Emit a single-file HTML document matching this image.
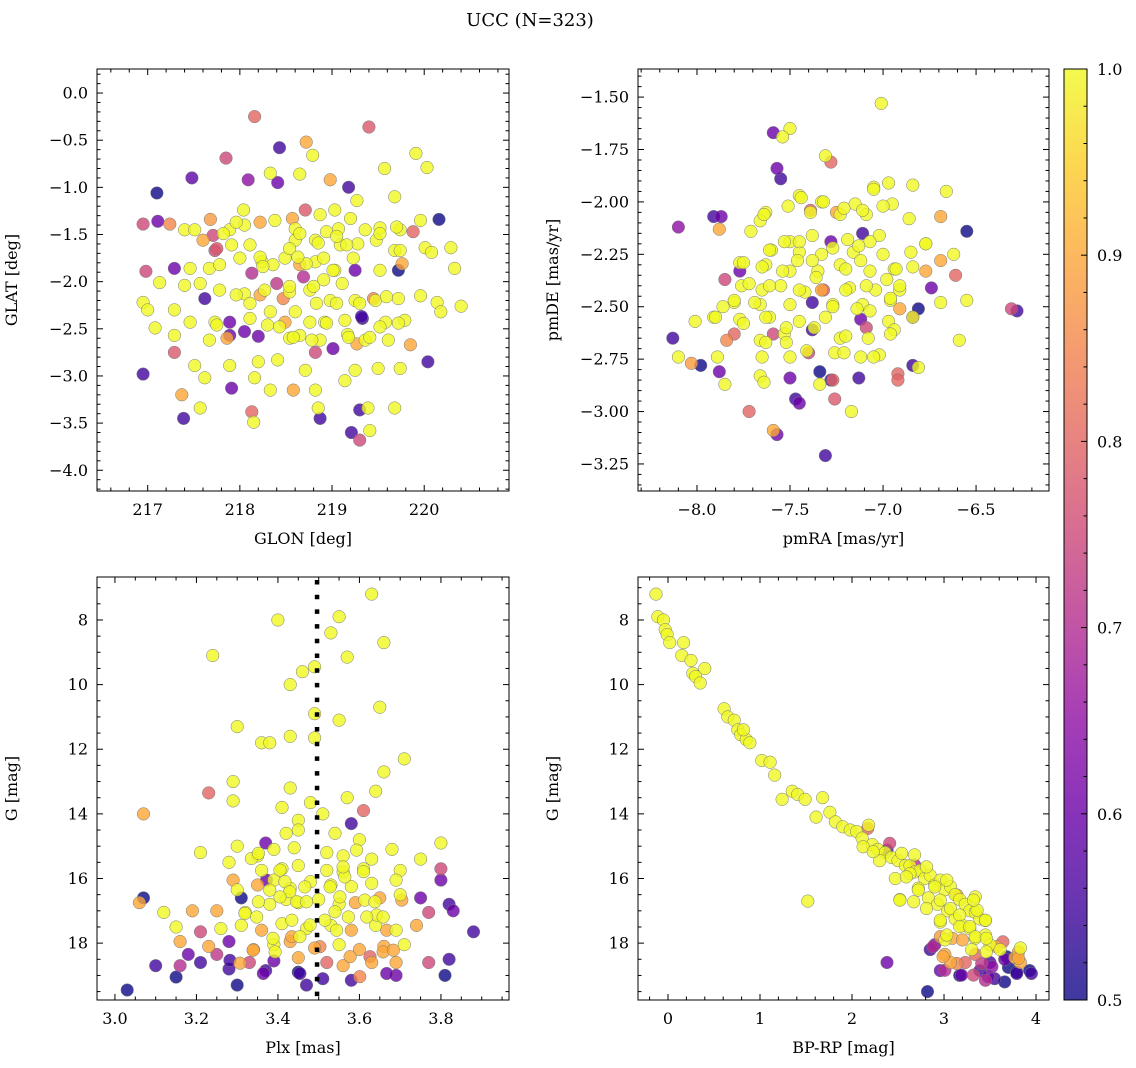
<!DOCTYPE html>
<html><head><meta charset="utf-8">
<style>
html,body{margin:0;padding:0;background:#fff;}
svg{display:block;font-family:"DejaVu Serif","Liberation Serif",serif;}
</style></head>
<body>
<svg id="fig" width="1136" height="1068" viewBox="0 0 1136 1068" xmlns="http://www.w3.org/2000/svg">
<defs>
<linearGradient id="plasmaGrad" x1="0" y1="1" x2="0" y2="0">
<stop offset="0" stop-color="#0d0887"/><stop offset="0.1" stop-color="#41049d"/><stop offset="0.2" stop-color="#6a00a8"/><stop offset="0.3" stop-color="#8f0da4"/><stop offset="0.4" stop-color="#b12a90"/><stop offset="0.5" stop-color="#cc4778"/><stop offset="0.6" stop-color="#e16462"/><stop offset="0.7" stop-color="#f2844b"/><stop offset="0.8" stop-color="#fca636"/><stop offset="0.9" stop-color="#fcce25"/><stop offset="1" stop-color="#f0f921"/>
</linearGradient>
</defs>
<text x="530" y="26" font-size="18" text-anchor="middle">UCC (N=323)</text>
<g id="plots"></g>
<g>
<rect x="1064" y="69" width="23" height="931" fill="url(#plasmaGrad)" opacity="0.8"/>
<rect x="1064" y="69" width="23" height="931" fill="none" stroke="#000" stroke-width="1"/>
<g id="cbticks"></g>
</g>
</svg>
<script>
const glon=[218.16,219.40,218.72,218.43,217.85,219.91,218.79,217.48,219.57,220.03,217.10,219.18,218.41,218.09,218.33,218.65,218.98,219.27,219.68,220.16,216.95,217.11,217.24,217.40,217.68,217.89,218.05,218.22,218.38,218.57,218.71,218.87,219.03,219.20,219.36,219.52,219.74,219.96,217.60,217.73,218.11,218.60,218.82,219.09,219.28,219.48,219.68,220.01,220.29,216.98,217.29,217.67,217.78,218.00,218.24,218.49,218.65,218.82,219.03,219.25,219.52,219.72,220.08,220.33,217.13,217.40,217.62,217.78,218.05,218.27,218.54,218.76,218.98,219.25,219.47,219.72,219.96,220.14,216.95,217.00,217.29,217.46,217.73,217.89,218.11,218.30,218.49,218.76,218.92,219.14,219.33,219.58,219.79,220.18,220.40,217.08,217.29,217.67,217.89,218.20,218.54,218.65,218.87,219.17,219.36,219.61,219.85,216.95,217.29,217.51,217.62,217.89,218.20,218.41,218.71,218.82,219.01,219.25,219.50,219.74,220.04,217.37,217.57,217.91,218.16,218.33,218.58,218.82,219.14,219.30,219.39,219.68,217.39,218.13,218.15,218.87,218.85,219.21,219.30,219.41,
218.04,217.96,217.82,217.91,218.22,218.36,218.54,218.60,218.65,218.85,218.94,219.07,219.05,219.16,219.23,219.01,218.91,218.72,218.63,218.69,218.54,218.80,218.91,219.11,218.40,218.13,218.25,217.96,218.11,218.22,218.33,218.47,218.60,218.83,218.94,219.05,219.30,219.45,219.59,219.52,219.72,219.32,219.18,219.41,219.27,218.78,218.58,218.43,218.05,217.86,217.75,217.57,217.46,217.51,217.71,217.75,219.70,219.52,219.74,219.76,219.88];
const glat=[-0.25,-0.36,-0.52,-0.58,-0.69,-0.64,-0.66,-0.90,-0.80,-0.79,-1.06,-1.00,-0.95,-0.92,-0.85,-0.86,-0.92,-1.14,-1.10,-1.34,-1.39,-1.36,-1.39,-1.45,-1.34,-1.45,-1.40,-1.37,-1.35,-1.33,-1.24,-1.29,-1.24,-1.33,-1.45,-1.43,-1.45,-1.35,-1.56,-1.67,-1.61,-1.56,-1.56,-1.61,-1.60,-1.56,-1.67,-1.64,-1.64,-1.89,-1.86,-1.86,-1.82,-1.75,-1.79,-1.75,-1.82,-1.79,-1.88,-1.88,-1.88,-1.88,-1.69,-1.86,-2.01,-2.04,-2.18,-2.09,-2.13,-2.09,-2.11,-2.09,-2.20,-2.20,-2.20,-2.18,-2.15,-2.22,-2.22,-2.30,-2.30,-2.43,-2.43,-2.43,-2.39,-2.46,-2.43,-2.43,-2.43,-2.41,-2.39,-2.43,-2.41,-2.32,-2.26,-2.49,-2.57,-2.62,-2.57,-2.58,-2.60,-2.57,-2.62,-2.56,-2.62,-2.62,-2.67,-2.98,-2.75,-2.89,-3.02,-2.89,-2.85,-2.83,-2.94,-2.75,-2.71,-2.94,-2.92,-2.92,-2.85,-3.20,-3.34,-3.13,-3.02,-3.15,-3.15,-3.15,-3.05,-3.36,-3.34,-3.34,-3.45,-3.38,-3.49,-3.45,-3.34,-3.60,-3.68,-3.58,
-1.24,-1.37,-1.49,-1.61,-1.74,-1.82,-1.65,-1.44,-1.49,-1.59,-1.47,-1.44,-1.52,-1.61,-1.75,-1.88,-1.75,-1.81,-1.74,-1.95,-2.05,-2.05,-1.98,-2.02,-2.02,-1.91,-1.84,-2.14,-2.23,-2.14,-2.32,-2.18,-2.32,-2.23,-2.44,-2.23,-2.23,-2.18,-2.16,-2.48,-2.44,-2.37,-2.59,-2.59,-2.66,-2.62,-2.59,-2.48,-2.53,-2.60,-2.46,-2.02,-1.86,-1.45,-1.51,-1.65,-1.42,-1.49,-1.67,-1.81,-1.47];
const prob1=[.8,.78,.9,.55,.75,1,1,.58,1,1,.5,.55,.6,.65,1,1,.9,1,1,.5,.75,.6,.85,1,.88,1,1,.9,1,.9,.78,1,1,1,1,1,1,1,.9,.75,1,1,1,1,1,1,1,1,1,.75,.6,1,1,1,1,1,.9,1,1,.6,1,.5,1,1,1,1,.55,1,1,1,1,1,1,1,1,1,1,1,1,1,1,1,1,.6,1,1,.9,1,1,1,.55,1,1,1,1,1,1,1,.6,.6,1,1,1,1,1,1,.9,.55,.78,1,1,1,1,1,1,.75,.6,1,1,1,.55,.9,1,.6,1,1,.9,1,1,.55,1,1,.55,.8,1,.55,1,.55,.75,1,
1,1,1,1,1,1,1,1,1,1,1,1,1,1,1,1,1,1,1,.7,1,1,1,1,.72,.7,1,1,1,.9,1,.85,1,1,1,1,1,.85,1,1,1,.55,1,1,.9,1,1,1,.6,.9,1,1,1,1,.75,.78,1,1,1,.9,.8];

const pmra=[-7.01,-7.50,-7.59,-7.54,-7.31,-7.28,-7.57,-7.55,-6.97,-6.84,-6.66,-7.05,-7.45,-7.33,-7.15,-6.95,-7.91,-7.87,-8.10,-7.88,-7.63,-7.66,-7.39,-7.23,-7.09,-6.86,-6.69,-6.55,-7.28,-7.11,-7.50,-7.38,-7.19,-7.02,-6.77,-7.60,-7.45,-7.33,-7.16,-7.00,-6.85,-6.62,-7.77,-7.77,-7.85,-7.63,-7.50,-7.35,-7.23,-7.07,-6.94,-6.77,-6.61,-7.76,-7.65,-7.55,-7.42,-7.32,-7.18,-7.04,-6.91,-6.74,-7.80,-7.66,-7.50,-7.38,-7.27,-7.11,-6.96,-6.81,-6.55,-6.31,-6.28,-8.01,-7.91,-7.77,-7.61,-7.45,-7.31,-7.12,-6.97,-6.84,-8.13,-7.80,-7.66,-7.53,-7.38,-7.23,-7.08,-6.94,-8.10,-7.89,-7.65,-7.50,-7.40,-7.26,-7.12,-7.02,-6.84,-6.81,-7.98,-8.03,-7.88,-7.66,-7.50,-7.34,-7.27,-7.13,-6.92,-7.85,-7.64,-7.34,-7.47,-7.45,-7.28,-6.92,-7.72,-7.17,-7.59,-7.57,-7.31,-7.26,-6.59,-6.69,
-7.44,-7.32,-7.21,-7.11,-7.00,-7.05,-7.51,-7.64,-7.71,-7.61,-7.53,-7.45,-7.38,-7.46,-7.54,-7.65,-7.75,-7.72,-7.61,-7.45,-7.36,-7.20,-7.12,-7.07,-7.13,-7.27,-7.33,-7.20,-7.09,-6.98,-6.93,-6.84,-6.91,-6.96,-7.07,-7.14,-7.27,-7.37,-7.52,-7.63,-7.69,-7.80,-7.86,-7.90,-7.75,-7.84,-7.63,-7.52,-7.41,-7.20,-7.21,-7.05,-6.96,-6.91,-6.77,-6.69,-7.25,-7.39,-6.84,-7.09,-7.59];
const pmde=[-1.53,-1.65,-1.67,-1.69,-1.78,-1.81,-1.84,-1.89,-1.91,-1.92,-1.95,-1.93,-1.97,-2.00,-2.01,-2.01,-2.07,-2.07,-2.12,-2.13,-2.05,-2.09,-2.05,-2.06,-2.06,-2.08,-2.07,-2.14,-2.19,-2.15,-2.19,-2.16,-2.18,-2.16,-2.20,-2.23,-2.24,-2.25,-2.24,-2.25,-2.24,-2.25,-2.29,-2.33,-2.37,-2.30,-2.33,-2.33,-2.30,-2.33,-2.32,-2.33,-2.35,-2.40,-2.42,-2.40,-2.43,-2.42,-2.41,-2.42,-2.42,-2.41,-2.48,-2.49,-2.49,-2.48,-2.49,-2.49,-2.47,-2.51,-2.47,-2.51,-2.52,-2.57,-2.55,-2.56,-2.55,-2.57,-2.55,-2.56,-2.57,-2.55,-2.65,-2.63,-2.66,-2.63,-2.61,-2.65,-2.65,-2.61,-2.74,-2.74,-2.74,-2.74,-2.72,-2.72,-2.74,-2.73,-2.78,-2.79,-2.78,-2.77,-2.81,-2.83,-2.84,-2.81,-2.85,-2.84,-2.82,-2.87,-2.86,-2.87,-2.94,-2.96,-2.85,-2.85,-3.00,-3.00,-3.09,-3.11,-3.21,-2.94,-2.66,-2.48,
-1.98,-2.00,-2.03,-2.04,-2.02,-1.94,-2.02,-2.06,-2.14,-2.23,-2.19,-2.19,-2.28,-2.28,-2.33,-2.31,-2.29,-2.39,-2.40,-2.42,-2.36,-2.32,-2.28,-2.19,-2.21,-2.22,-2.42,-2.42,-2.40,-2.37,-2.32,-2.31,-2.40,-2.46,-2.52,-2.51,-2.50,-2.60,-2.60,-2.55,-2.48,-2.47,-2.50,-2.55,-2.58,-2.66,-2.67,-2.67,-2.71,-2.64,-2.72,-2.74,-2.63,-2.51,-2.20,-2.28,-2.05,-2.04,-2.55,-2.60,-2.63];
const prob2=[1,1,.6,1,1,.8,.6,.55,1,1,1,1,1,1,1,1,.55,.6,.65,.9,1,1,1,1,1,1,.9,.5,.6,.55,1,1,1,1,1,1,1,1,1,1,1,1,1,.6,.75,1,1,1,1,1,1,.9,.8,1,1,1,1,.78,1,1,1,.6,1,1,1,.55,1,1,1,.5,1,.75,.55,1,1,1,1,1,1,.6,1,1,.55,.8,1,1,.55,1,1,1,1,1,1,1,.75,1,1,1,.55,1,.5,.88,.6,1,.6,.5,.8,.55,.8,1,1,1,.55,.6,.55,.8,.8,1,.9,.6,.55,.78,1,1,
1,1,1,1,1,1,1,1,1,1,1,1,1,1,1,1,1,1,1,1,1,1,1,1,1,1,.9,1,1,1,1,1,1,1,1,1,1,1,1,1,1,1,1,1,1,.85,1,1,1,1,1,1,1,.9,1,.9,.9,.8,.6,.75,.75];

const plx=[3.63,3.55,3.40,3.53,3.66,3.24,3.57,3.46,3.49,3.43,3.65,3.30,3.49,3.55,3.36,3.43,3.49,3.71,3.38,3.66,3.29,3.23,3.29,3.43,3.57,3.64,3.07,3.48,3.41,3.45,3.51,3.58,3.61,3.30,3.37,3.42,3.45,3.54,3.60,3.68,3.80,3.21,3.35,3.39,3.44,3.52,3.56,3.63,3.28,3.36,3.41,3.45,3.52,3.56,3.61,3.70,3.75,3.80,3.80,3.30,3.35,3.39,3.43,3.48,3.53,3.58,3.63,3.69,3.31,3.07,3.06,3.12,3.19,3.25,3.32,3.38,3.42,3.45,3.50,3.55,3.59,3.65,3.70,3.75,3.82,3.83,3.77,3.88,3.15,3.21,3.26,3.31,3.36,3.41,3.47,3.53,3.58,3.64,3.69,3.74,3.23,3.28,3.34,3.39,3.43,3.49,3.55,3.60,3.66,3.71,3.18,3.21,3.16,3.25,3.28,3.33,3.39,3.45,3.52,3.56,3.63,3.69,3.77,3.82,3.03,3.10,3.15,3.30,3.37,3.45,3.51,3.58,3.69,3.81,3.47,3.16,
3.335,3.352,3.372,3.405,3.417,3.429,3.446,3.405,3.380,3.352,3.319,3.348,3.434,3.470,3.466,3.528,3.552,3.564,3.560,3.593,3.610,3.613,3.638,3.642,3.618,3.573,3.540,3.515,3.544,3.479,3.454,3.388,3.339,3.393,3.434,3.503,3.577,3.626,3.658,3.683,3.667,3.704,3.658,3.290,3.364,3.454,3.601,3.667,3.307,3.282];
const gmag3=[7.2,7.9,8.0,8.4,8.7,9.1,9.15,9.6,9.45,10.0,10.7,11.3,10.9,11.1,11.8,11.6,11.65,12.3,11.8,12.7,13.0,13.35,13.6,13.2,13.5,13.3,14.0,13.65,13.8,14.2,14.0,14.3,13.9,15.0,14.9,14.6,14.5,14.6,14.8,15.1,14.9,15.2,15.3,15.1,15.05,15.2,15.3,15.4,15.5,15.75,15.7,15.6,15.75,15.8,15.7,15.75,15.4,15.7,16.05,16.35,16.2,16.05,16.3,16.1,16.2,16.25,16.15,16.05,16.6,16.6,16.75,17.05,17.0,17.0,17.05,16.8,16.65,16.75,16.65,16.8,16.75,16.6,16.5,16.6,16.8,17.0,17.05,17.65,17.5,17.65,17.55,17.45,17.6,17.4,17.55,17.45,17.6,17.45,17.6,17.45,18.1,17.95,18.2,18.05,17.95,18.15,18.05,18.2,18.1,18.05,18.35,18.6,18.7,18.35,18.8,18.6,18.55,18.45,18.6,18.7,18.6,18.6,18.6,18.5,19.45,18.7,19.05,19.3,18.85,18.9,19.1,19.15,19.0,19.0,19.3,17.95,
15.38,15.22,16.05,15.74,16.1,16.41,16.72,16.57,16.36,16.72,17.08,17.19,17.29,16.72,16.26,16.26,16.57,15.95,15.64,15.12,15.79,16.67,16.72,17.13,17.19,17.19,17.03,17.29,17.60,17.44,17.80,17.85,18.22,18.27,17.80,18.11,18.42,18.42,18.27,18.22,17.60,16.67,17.19,16.05,18.94,18.94,19.04,18.94,18.62,18.53];
const prob3=[1,1,1,1,1,1,1,1,1,1,1,1,1,1,1,1,1,1,1,1,1,.8,1,1,1,1,.9,1,1,1,1,.55,.8,1,.6,1,1,1,1,1,1,1,1,1,1,1,1,1,1,1,1,1,1,1,1,1,1,.75,.6,1,.9,1,1,1,1,1,1,1,.5,.5,.9,1,.9,.9,1,1,1,1,1,1,.9,.9,1,.6,.55,.6,.75,.55,1,.75,1,1,.9,1,1,1,.9,1,1,.9,.9,.6,.9,1,.9,.9,1,.9,.9,1,.6,.55,.7,.72,.55,.75,.6,.9,.8,.9,.9,.9,.75,.55,.5,.55,.5,.5,.55,.5,.55,.55,.6,.5,.55,.9,
1,1,.6,1,1,1,1,1,1,1,1,1,1,1,1,1,1,1,1,1,1,1,1,1,1,1,1,1,1,1,1,1,.9,1,.9,.85,.9,.8,.9,.9,.9,.9,1,.9,.6,.55,.85,.6,.9,.55];

const bprp=[-0.13,-0.11,-0.05,-0.03,-0.01,0.02,0.17,0.15,0.25,0.27,0.30,0.35,0.40,0.61,0.65,0.72,0.76,0.79,0.85,0.89,0.82,1.02,1.11,1.16,1.24,1.35,1.41,1.49,1.68,1.61,1.76,1.82,1.90,1.98,2.05,2.11,2.17,2.22,2.28,2.36,2.43,2.50,2.58,2.63,2.68,2.74,2.79,2.85,2.90,2.96,3.01,3.07,3.12,3.17,3.23,3.28,3.34,3.39,3.45,2.72,2.83,2.93,3.04,3.12,3.20,3.28,2.96,2.52,1.52,2.47,3.09,3.20,3.34,3.45,3.50,3.61,3.77,3.83,3.01,3.07,2.90,2.85,3.23,3.34,3.50,3.66,3.70,3.39,3.17,2.96,3.55,3.66,3.79,3.93,2.38,2.82,3.45,3.83,3.30,3.01,2.63,2.30,
2.18,2.12,2.23,2.41,2.38,2.54,2.68,2.81,2.68,2.59,2.72,2.90,3.03,2.96,3.14,2.52,2.67,2.81,3.07,3.17,3.34,3.36,3.45,2.96,3.03,3.17,3.28,3.34,3.46,3.46,3.57,3.64,2.96,2.88,2.99,3.14,3.01,3.19,3.32,3.41,3.52,3.48,3.68,3.81,3.81,3.79,3.95,3.32];
const gmag4=[7.2,7.9,8.0,8.3,8.45,8.7,8.7,9.1,9.25,9.65,9.75,9.95,9.5,10.75,11.0,11.1,11.4,11.55,11.7,11.8,11.4,12.35,12.4,12.8,13.55,13.3,13.4,13.55,13.5,14.1,13.95,14.25,14.4,14.5,14.55,14.75,14.45,14.95,15.1,15.2,15.35,15.45,15.6,15.6,15.8,15.75,16.0,15.9,16.2,16.05,16.35,16.25,16.5,16.65,16.8,17.0,17.05,17.25,17.3,16.3,16.6,16.8,17.0,17.25,17.45,17.55,17.35,16.65,16.7,16.0,17.85,17.9,17.85,17.75,18.05,18.2,18.45,18.6,18.35,18.6,18.05,18.2,18.6,18.35,18.6,18.5,18.75,18.85,19.0,18.85,19.1,19.2,18.9,18.85,18.6,19.5,19.15,18.15,18.2,17.9,15.85,15.45,
14.35,15.02,15.17,14.91,15.12,15.22,15.27,15.64,15.58,15.95,16.36,16.26,16.05,16.67,16.51,16.67,16.72,16.93,16.93,17.13,16.57,16.98,17.29,17.29,17.75,17.49,17.49,17.80,17.85,18.27,18.11,17.96,17.80,18.11,18.42,18.63,18.84,18.99,18.99,18.63,18.73,19.04,18.42,18.27,18.47,18.94,18.94,16.67];
const prob4=[1,1,1,1,1,1,1,1,1,1,1,1,1,1,1,1,1,1,1,1,1,1,1,1,1,1,1,1,1,1,1,1,1,1,1,1,.8,1,1,1,1,1,1,1,1,1,1,1,1,1,1,1,1,1,1,1,1,1,1,1,1,1,1,1,1,1,1,1,1,1,.9,.9,1,1,1,1,.9,.9,.9,.9,.6,.55,.8,.8,.55,.6,.5,.55,.5,.6,.55,.5,.5,.5,.6,.5,.7,1,1,1,1,1,
1,1,1,.75,.55,1,1,1,.7,1,1,1,1,1,.9,1,1,1,1,1,1,1,1,1,1,1,1,1,1,1,.9,.8,.88,.7,.9,.85,.7,.6,.75,.72,.65,.6,.5,.9,.9,.55,.55,1];

const plxRef=3.496;
const cbTicks=[0.5,0.6,0.7,0.8,0.9,1.0];

const plasma=[[13,8,135],[65,4,157],[106,0,168],[143,13,164],[177,42,144],[204,71,120],[225,100,98],[242,132,75],[252,166,54],[252,206,37],[240,249,33]];
function cmap(v){let t=Math.max(0,Math.min(1,(v-0.5)/0.5))*10;let i=Math.min(9,Math.floor(t)),f=t-i;const a=plasma[i],b=plasma[i+1];return 'rgb('+[0,1,2].map(k=>Math.round(a[k]+(b[k]-a[k])*f)).join(',')+')';}
const NS='http://www.w3.org/2000/svg';
function mk(tag,attrs,parent){const e=document.createElementNS(NS,tag);for(const k in attrs)e.setAttribute(k,attrs[k]);parent.appendChild(e);return e;}
function fmt(v,d){return v.toFixed(d).replace('-','\u2212');}
const root=document.getElementById('plots');

const panels=[
 {name:'sky',L:97,T:69,W:412,H:422,x0:216.45,x1:220.92,y0:0.255,y1:-4.22,xs:glon,ys:glat,cs:prob1,xmaj:[217,218,219,220],xd:0,xmin:0.2,ymaj:[0,-0.5,-1,-1.5,-2,-2.5,-3,-3.5,-4],yd:1,ymin:0.1,xl:'GLON [deg]',yl:'GLAT [deg]'},
 {name:'pm',L:638,T:69,W:411,H:422,x0:-8.317,x1:-6.108,y0:-1.366,y1:-3.379,xs:pmra,ys:pmde,cs:prob2,xmaj:[-8,-7.5,-7,-6.5],xd:1,xmin:0.1,ymaj:[-1.5,-1.75,-2,-2.25,-2.5,-2.75,-3,-3.25],yd:2,ymin:0.05,xl:'pmRA [mas/yr]',yl:'pmDE [mas/yr]'},
 {name:'plx',L:97,T:577,W:412,H:423,x0:2.956,x1:3.967,y0:6.67,y1:19.76,xs:plx,ys:gmag3,cs:prob3,xmaj:[3.0,3.2,3.4,3.6,3.8],xd:1,xmin:0.05,ymaj:[8,10,12,14,16,18],yd:0,ymin:0.5,xl:'Plx [mas]',yl:'G [mag]'},
 {name:'cmd',L:638,T:577,W:411,H:423,x0:-0.326,x1:4.141,y0:6.67,y1:19.76,xs:bprp,ys:gmag4,cs:prob4,xmaj:[0,1,2,3,4],xd:0,xmin:0.2,ymaj:[8,10,12,14,16,18],yd:0,ymin:0.5,xl:'BP-RP [mag]',yl:'G [mag]'}
];

panels.forEach((p,pi)=>{
 const g=mk('g',{},root);
 
 
 const X=v=>p.L+(v-p.x0)/(p.x1-p.x0)*p.W;
 const Y=v=>p.T+(v-p.y0)/(p.y1-p.y0)*p.H;
 const cp=mk('clipPath',{id:'clip'+pi},g);mk('rect',{x:p.L,y:p.T,width:p.W,height:p.H},cp);
 const pts=mk('g',{'clip-path':'url(#clip'+pi+')'},g);
 
 
 const n=Math.min(p.xs.length,p.ys.length,p.cs.length);
 const idx=[...Array(n).keys()].sort((a,b)=>p.cs[a]-p.cs[b]);
 idx.forEach(i=>{
  const c=mk('circle',{cx:X(p.xs[i]).toFixed(1),cy:Y(p.ys[i]).toFixed(1),r:6.3,fill:cmap(p.cs[i]),'fill-opacity':0.8,stroke:'#777','stroke-width':0.5},pts);
  
  
 });
 if(p.name==='plx'){
  const l=mk('line',{x1:X(plxRef),x2:X(plxRef),y1:p.T+3,y2:p.T+p.H,stroke:'#000','stroke-width':4.5,'stroke-dasharray':'4.5,10.2'},g);
  
  
 }
 const ax=mk('g',{stroke:'#000','stroke-width':1},g);
 
 
 mk('rect',{x:p.L,y:p.T,width:p.W,height:p.H,fill:'none'},ax);
 const lo=Math.min(p.x0,p.x1),hi=Math.max(p.x0,p.x1);
 for(let k=Math.ceil(lo/p.xmin-1e-6);k*p.xmin<=hi+1e-9;k++){const v=k*p.xmin;const x=X(v);const maj=p.xmaj.some(m=>Math.abs(m-v)<1e-6);const len=maj?6:3.5;
  mk('line',{x1:x,x2:x,y1:p.T+p.H,y2:p.T+p.H-len},ax);mk('line',{x1:x,x2:x,y1:p.T,y2:p.T+len},ax);}
 const ylo=Math.min(p.y0,p.y1),yhi=Math.max(p.y0,p.y1);
 for(let k=Math.ceil(ylo/p.ymin-1e-6);k*p.ymin<=yhi+1e-9;k++){const v=k*p.ymin;const y=Y(v);const maj=p.ymaj.some(m=>Math.abs(m-v)<1e-6);const len=maj?6:3.5;
  mk('line',{x1:p.L,x2:p.L+len,y1:y,y2:y},ax);mk('line',{x1:p.L+p.W,x2:p.L+p.W-len,y1:y,y2:y},ax);}
 p.xmaj.forEach(v=>{const t=mk('text',{x:X(v),y:p.T+p.H+24,'font-size':16,'text-anchor':'middle'},g);t.textContent=fmt(v,p.xd);
  });
 p.ymaj.forEach(v=>{const t=mk('text',{x:p.L-9,y:Y(v)+5.5,'font-size':16,'text-anchor':'end'},g);t.textContent=fmt(v,p.yd);
  });
 const xl=mk('text',{x:p.L+p.W/2,y:p.T+p.H+53,'font-size':16,'text-anchor':'middle'},g);xl.textContent=p.xl;
 
 const yx=p.L-80;const yy=p.T+p.H/2;
 const yl=mk('text',{x:yx,y:yy,'font-size':16,'text-anchor':'middle',transform:'rotate(-90 '+yx+' '+yy+')'},g);yl.textContent=p.yl;
 
});

const cb=document.getElementById('cbticks');
const CY=v=>1000-(v-0.5)/0.5*931;
for(let k=25;k<=50;k++){const v=k*0.02;const maj=(k%5===0);const y=CY(v);
 mk('line',{x1:1087,x2:1087-(maj?6:3.5),y1:y,y2:y,stroke:'#000','stroke-width':1},cb);}
cbTicks.forEach(v=>{const t=mk('text',{x:1097,y:CY(v)+6,'font-size':16},cb);t.textContent=v.toFixed(1);
 });
</script>
</body></html>
